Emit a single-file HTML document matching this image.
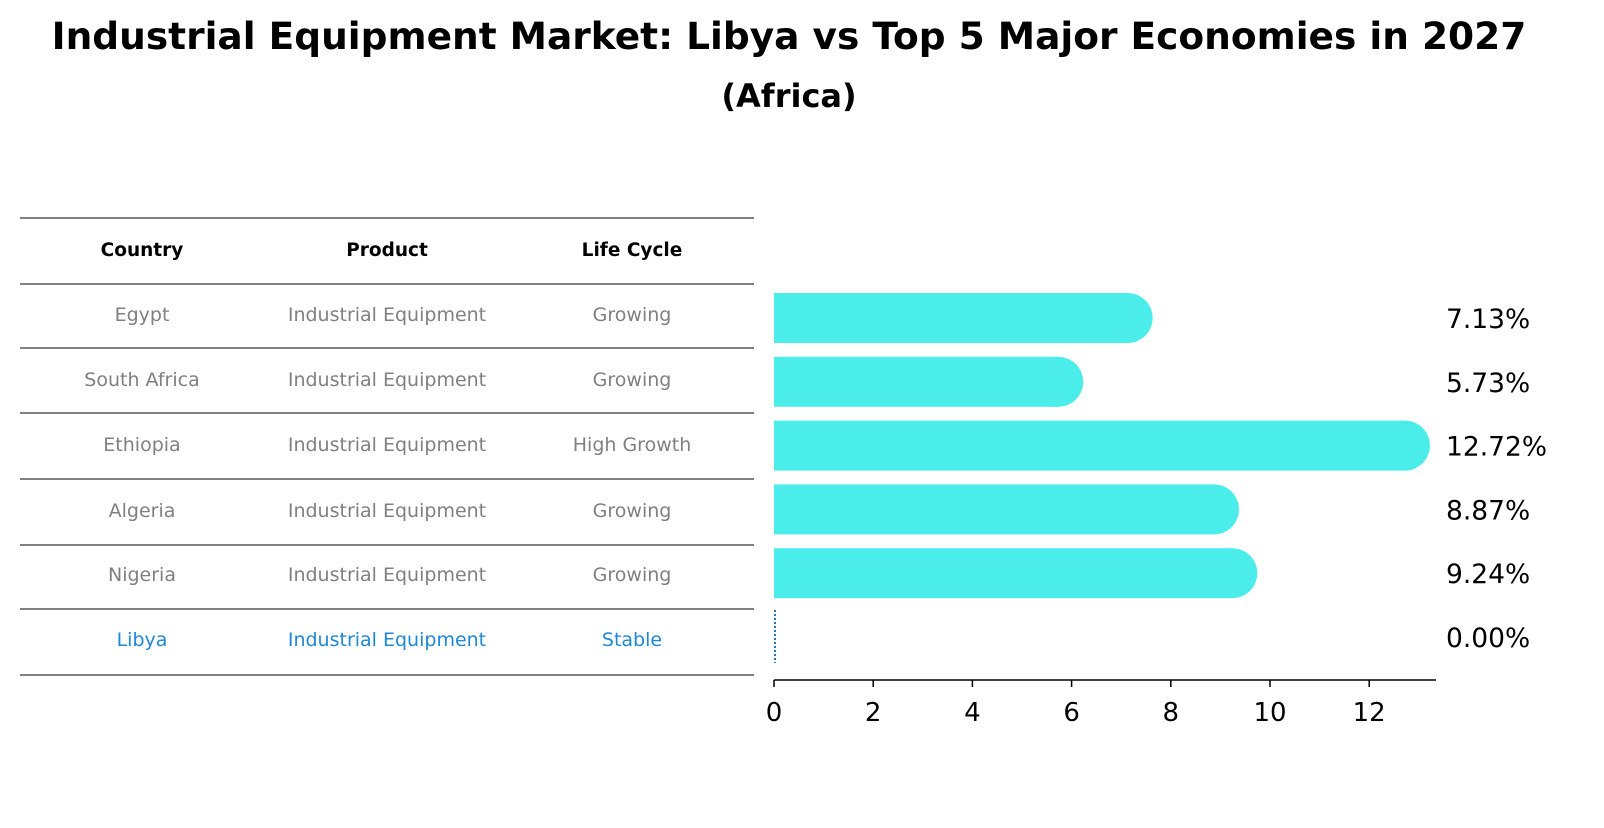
<!DOCTYPE html>
<html><head><meta charset="utf-8"><style>
body{margin:0;background:#fff;font-family:"Liberation Sans","DejaVu Sans",sans-serif}
</style></head><body>
<svg width="1604" height="823" xmlns="http://www.w3.org/2000/svg" font-family="DejaVu Sans, Liberation Sans, sans-serif">
<text x="789" y="49" text-anchor="middle" font-size="37.5" font-weight="bold">Industrial Equipment Market: Libya vs Top 5 Major Economies in 2027</text>
<text x="789" y="107" text-anchor="middle" font-size="32" font-weight="bold">(Africa)</text>
<g id="table"></g>
<g id="bars"></g>
<g id="axis"></g>
</svg>
<script>
const countries=["Egypt","South Africa","Ethiopia","Algeria","Nigeria","Libya"];
const products=["Industrial Equipment","Industrial Equipment","Industrial Equipment","Industrial Equipment","Industrial Equipment","Industrial Equipment"];
const lifecycles=["Growing","Growing","High Growth","Growing","Growing","Stable"];
const values=[7.13,5.73,12.72,8.87,9.24,0.00];
const ticks=[0,2,4,6,8,10,12];
const NS="http://www.w3.org/2000/svg";
function mk(tag,attrs,parent,txt){const e=document.createElementNS(NS,tag);for(const k in attrs)e.setAttribute(k,attrs[k]);if(txt!==undefined)e.textContent=txt;parent.appendChild(e);return e;}
const x=v=>774+v*49.6;
const rowY=i=>318+i*63.8;
const table=document.getElementById('table');
const lines=[218,284,348,413,479,545,609,675];
lines.forEach((ly,i)=>{const l=mk('line',{x1:20,x2:754,y1:ly,y2:ly,stroke:'#000','stroke-width':1},table);

});
const cx=[142,387,632];
["Country","Product","Life Cycle"].forEach((h,j)=>{const t=mk('text',{x:cx[j],y:256,'text-anchor':'middle','font-size':18.5,'font-weight':'bold'},table,h);

});
const ty=[321,386,451,517,581,646];
countries.forEach((c,i)=>{const col=c==="Libya"?"#1f88d6":"#808080";
[c,products[i],lifecycles[i]].forEach((s,j)=>{const t=mk('text',{x:cx[j],y:ty[i],'text-anchor':'middle','font-size':19,fill:col},table,s);

});});
const bars=document.getElementById('bars');
values.forEach((v,i)=>{const cy=rowY(i);
if(v>0){const g=mk('g',{},bars);


mk('rect',{x:x(0),y:cy-25,width:x(v)-x(0),height:50,fill:'#4bedeb'},g);
mk('circle',{cx:x(v),cy:cy,r:25,fill:'#4bedeb'},g);}
else{const l=mk('line',{x1:x(0)+1,x2:x(0)+1,y1:cy-27,y2:cy+26,stroke:'#1f77b4','stroke-width':2,'stroke-dasharray':'2,2'},bars);

}
const t=mk('text',{x:1446,y:cy+10,'font-size':26.5},bars,v.toFixed(2)+'%');

});
const axis=document.getElementById('axis');
mk('line',{x1:774,x2:1436,y1:680,y2:680,stroke:'#000','stroke-width':1.5},axis);
ticks.forEach(t=>{mk('line',{x1:x(t),x2:x(t),y1:680,y2:687,stroke:'#000','stroke-width':1.5},axis);
const tx=mk('text',{x:x(t),y:721,'text-anchor':'middle','font-size':26},axis,t);

});
</script>
</body></html>
